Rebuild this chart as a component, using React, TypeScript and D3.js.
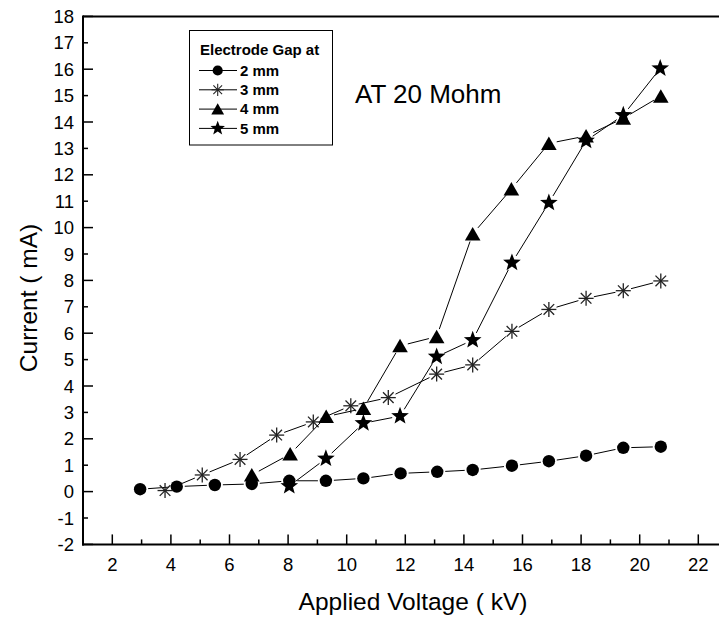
import React from "react";
import * as d3 from "d3";

const xTicks = [2, 4, 6, 8, 10, 12, 14, 16, 18, 20, 22];
const yTicks = [-2, -1, 0, 1, 2, 3, 4, 5, 6, 7, 8, 9, 10, 11, 12, 13, 14, 15, 16, 17, 18];

const gap2x = [2.95, 4.2, 5.5, 6.76, 8.04, 9.29, 10.57, 11.84, 13.09, 14.3, 15.64, 16.9, 18.17, 19.44, 20.72];
const gap2y = [0.09, 0.19, 0.25, 0.29, 0.41, 0.41, 0.5, 0.69, 0.75, 0.82, 0.98, 1.15, 1.36, 1.66, 1.7];

const gap3x = [3.8, 5.07, 6.36, 7.61, 8.86, 10.14, 11.42, 13.07, 14.3, 15.64, 16.9, 18.17, 19.44, 20.72];
const gap3y = [0.04, 0.63, 1.22, 2.14, 2.64, 3.25, 3.56, 4.45, 4.8, 6.07, 6.9, 7.32, 7.61, 7.98];

const gap4x = [6.76, 8.07, 9.3, 10.57, 11.82, 13.07, 14.3, 15.62, 16.9, 18.17, 19.44, 20.72];
const gap4y = [0.63, 1.42, 2.84, 3.15, 5.52, 5.87, 9.76, 11.46, 13.19, 13.47, 14.14, 14.98];

const gap5x = [8.04, 9.29, 10.57, 11.82, 13.07, 14.3, 15.64, 16.9, 18.17, 19.44, 20.7];
const gap5y = [0.21, 1.25, 2.59, 2.86, 5.11, 5.74, 8.67, 10.94, 13.29, 14.26, 16.03];

const seriesNames = ["2 mm", "3 mm", "4 mm", "5 mm"];
const seriesMarkers = ["circle", "asterisk", "triangle", "star"];

const W = 719;
const H = 622;
const x = d3.scaleLinear().domain([1, 22]).range([83, 698.3]);
const y = d3.scaleLinear().domain([-2, 18]).range([544.4, 16.4]);

const FONT = "Arial, 'Liberation Sans', sans-serif";

function starPath(cx: number, cy: number, R: number, r: number) {
  const pts: [number, number][] = [];
  for (let i = 0; i < 10; i++) {
    const a = -Math.PI / 2 + (i * Math.PI) / 5;
    const rad = i % 2 === 0 ? R : r;
    pts.push([cx + rad * Math.cos(a), cy + rad * Math.sin(a)]);
  }
  return d3.line()(pts) + "Z";
}

function Marker({ kind, cx, cy }: { kind: string; cx: number; cy: number }) {
  if (kind === "circle") return <circle cx={cx} cy={cy} r={6.2} fill="#000" />;
  if (kind === "triangle") {
    const w = 7.8, h = 13;
    return (
      <path
        d={`M${cx},${cy - h / 2 - 0.5}L${cx + w},${cy + h / 2}L${cx - w},${cy + h / 2}Z`}
        fill="#000"
      />
    );
  }
  if (kind === "star") return <path d={starPath(cx, cy, 9.3, 3.9)} fill="#000" />;
  const R = 7.5;
  const d = R * Math.SQRT1_2;
  return (
    <g stroke="#222" strokeWidth={1.3}>
      <line x1={cx - R} y1={cy} x2={cx + R} y2={cy} />
      <line x1={cx} y1={cy - R} x2={cx} y2={cy + R} />
      <line x1={cx - d} y1={cy - d} x2={cx + d} y2={cy + d} />
      <line x1={cx - d} y1={cy + d} x2={cx + d} y2={cy - d} />
    </g>
  );
}

function Series({ xs, ys, kind }: { xs: number[]; ys: number[]; kind: string }) {
  const pts = xs.map((v, i) => [x(v), y(ys[i])] as [number, number]);
  const g = 8;
  const segs: JSX.Element[] = [];
  for (let i = 0; i < pts.length - 1; i++) {
    const [x1, y1] = pts[i];
    const [x2, y2] = pts[i + 1];
    const L = Math.hypot(x2 - x1, y2 - y1);
    if (L <= 2 * g) continue;
    const ux = (x2 - x1) / L, uy = (y2 - y1) / L;
    segs.push(
      <line
        key={i}
        x1={x1 + ux * g}
        y1={y1 + uy * g}
        x2={x2 - ux * g}
        y2={y2 - uy * g}
        stroke="#000"
        strokeWidth={1}
      />
    );
  }
  return (
    <g>
      {segs}
      {pts.map((p, i) => (
        <Marker key={i} kind={kind} cx={p[0]} cy={p[1]} />
      ))}
    </g>
  );
}

export default function App() {
  const all = [
    [gap2x, gap2y],
    [gap3x, gap3y],
    [gap4x, gap4y],
    [gap5x, gap5y],
  ];
  const x0 = x(1);
  const yb = y(-2);
  const yt = y(18);
  const minorX = d3.range(1, 23, 1);
  return (
    <svg
      width={W}
      height={H}
      style={{ position: "absolute", left: 0, top: 0, background: "#fff" }}
      fontFamily={FONT}
    >
      <rect width={W} height={H} fill="#fff" />
      <line x1={x0} y1={yt} x2={W} y2={yt} stroke="#000" strokeWidth={2} />
      <line x1={x0 - 1} y1={yb} x2={W} y2={yb} stroke="#000" strokeWidth={2} />
      <line x1={x0} y1={yt - 1} x2={x0} y2={yb + 1} stroke="#000" strokeWidth={2} />
      {minorX.map((v) => {
        const major = v % 2 === 0;
        return (
          <line
            key={v}
            x1={x(v)}
            x2={x(v)}
            y1={yb}
            y2={yb - (major ? 10 : 5)}
            stroke="#000"
            strokeWidth={1.5}
          />
        );
      })}
      {xTicks.map((v) => (
        <text key={v} x={x(v)} y={571} fontSize={18.5} textAnchor="middle">
          {v}
        </text>
      ))}
      {yTicks.map((v) => {
        const major = v % 2 === 0;
        return (
          <g key={v}>
            <line
              x1={x0}
              x2={x0 + (major ? 10 : 5)}
              y1={y(v)}
              y2={y(v)}
              stroke="#000"
              strokeWidth={1.5}
            />
            <text x={74} y={y(v) + 6.5} fontSize={18.5} textAnchor="end">
              {v}
            </text>
          </g>
        );
      })}
      <text x={413} y={610} fontSize={24.5} textAnchor="middle">
        Applied Voltage ( kV)
      </text>
      <text transform={`translate(37,298) rotate(-90)`} fontSize={24.5} textAnchor="middle">
        Current ( mA)
      </text>
      {all.map((s, i) => (
        <Series key={i} xs={s[0]} ys={s[1]} kind={seriesMarkers[i]} />
      ))}
      <text x={355} y={103} fontSize={26}>
        AT 20 Mohm
      </text>
      <rect x={189.5} y={30.5} width={143} height={114.5} fill="#fff" stroke="#000" strokeWidth={1} />
      <text x={200} y={55} fontSize={15} fontWeight="bold">
        Electrode Gap at
      </text>
      {seriesNames.map((n, i) => {
        const cy = 70.5 + i * 19.3;
        return (
          <g key={n}>
            <line x1={199} x2={237} y1={cy} y2={cy} stroke="#000" strokeWidth={1} />
            <g transform={`translate(${217.7},${cy}) scale(0.82) translate(${-217.7},${-cy})`}>
              <Marker kind={seriesMarkers[i]} cx={217.7} cy={cy} />
            </g>
            <text x={240} y={cy + 5.3} fontSize={15} fontWeight="bold">
              {n}
            </text>
          </g>
        );
      })}
    </svg>
  );
}
